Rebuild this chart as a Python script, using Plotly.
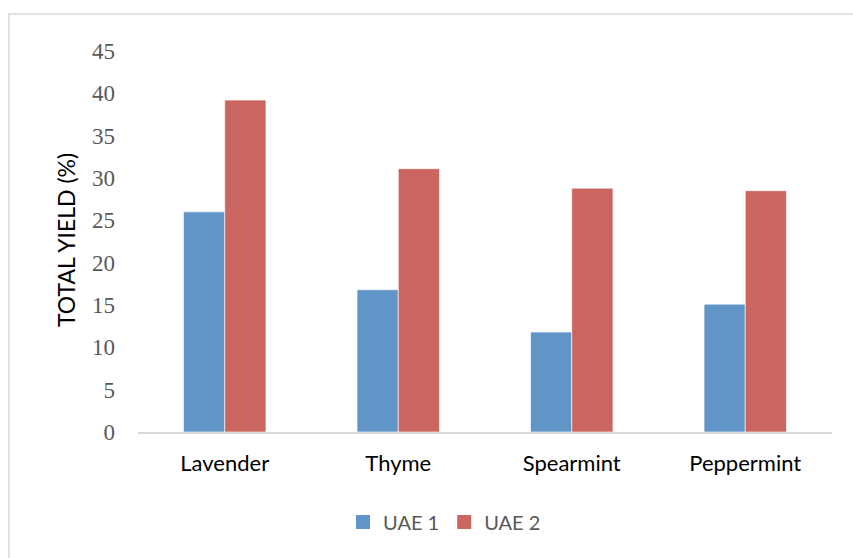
import plotly.graph_objects as go

# Extraction yield by plant and method
categories = ["Lavender", "Thyme", "Spearmint", "Peppermint"]
uae1 = [26.0, 16.8, 11.8, 15.1]
uae2 = [39.2, 31.1, 28.8, 28.5]
series_names = ["UAE 1", "UAE 2"]
series_colors = ["#6194C7", "#CB655F"]
y_ticks = [0, 5, 10, 15, 20, 25, 30, 35, 40, 45]

W, H = 853, 558
L, R, T, B = 138, 21, 51, 126
plot_w = W - L - R
plot_h = H - T - B


def px_to_paper_x(px):
    return (px - L) / plot_w


def px_to_paper_y(py):
    return (H - B - py) / plot_h


fig = go.Figure()
for name, vals, color in zip(series_names, [uae1, uae2], series_colors):
    fig.add_trace(go.Bar(
        x=categories, y=vals, name=name, showlegend=False,
        marker=dict(color=color, line=dict(color="rgba(255,255,255,0.6)", width=1)),
    ))
    # square legend keys
    fig.add_trace(go.Scatter(
        x=[None], y=[None], mode="markers", name=name,
        marker=dict(symbol="square", size=14, color=color),
    ))

fig.update_layout(
    width=W, height=H,
    margin=dict(l=L, r=R, t=T, b=B),
    paper_bgcolor="white",
    plot_bgcolor="white",
    barmode="group",
    bargap=0.525,
    bargroupgap=0,
    showlegend=True,
    legend=dict(
        orientation="h",
        x=px_to_paper_x(343), xanchor="left",
        y=px_to_paper_y(522), yanchor="middle",
        font=dict(family="Lato, sans-serif", size=20, color="#595959"),
        itemwidth=30,
        itemsizing="trace",
        traceorder="normal",
    ),
    xaxis=dict(
        showline=True, linecolor="#D9D9D9", linewidth=1.5,
        showgrid=False, ticks="",
        ticklabelstandoff=11,
        tickfont=dict(family="Lato, sans-serif", size=22, color="#000000"),
    ),
    yaxis=dict(
        range=[0, 45],
        tickvals=y_ticks,
        showline=False, showgrid=False, zeroline=False, ticks="",
        ticklabelstandoff=22,
        tickfont=dict(family="Liberation Serif, serif", size=23, color="#595959"),
    ),
    shapes=[dict(
        type="rect", xref="paper", yref="paper",
        x0=px_to_paper_x(9), x1=px_to_paper_x(900),
        y0=px_to_paper_y(600), y1=px_to_paper_y(14),
        line=dict(color="#D9D9D9", width=1.5),
        fillcolor="rgba(0,0,0,0)", layer="below",
    )],
    annotations=[dict(
        text="TOTAL YIELD (%)", textangle=-90,
        xref="paper", yref="paper",
        x=px_to_paper_x(66), y=px_to_paper_y(240),
        xanchor="center", yanchor="middle", showarrow=False,
        font=dict(family="Lato, sans-serif", size=23, color="#000000"),
    )],
)

fig.write_html("out.html")
